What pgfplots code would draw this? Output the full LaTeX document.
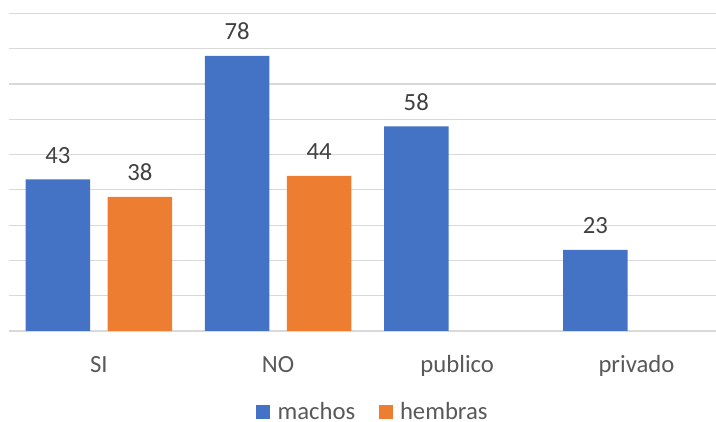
\documentclass[border=0pt]{standalone}
\usepackage{pgfplots}
\pgfplotsset{compat=1.18}
\usepackage{fontspec}
\setmainfont{Carlito}
\definecolor{machos}{HTML}{4472C4}
\definecolor{hembras}{HTML}{ED7D31}
\definecolor{txt}{HTML}{595959}
\definecolor{lbl}{HTML}{404040}
\definecolor{gridc}{HTML}{D9D9D9}
\begin{document}
\begin{tikzpicture}[font=\fontsize{24.7bp}{29bp}\selectfont]
\path[use as bounding box] (0,0) rectangle (716bp,422bp);
\begin{axis}[
  at={(9.3bp,91bp)}, anchor=south west,
  scale only axis, width=706.7bp, height=317.5bp,
  ybar,
  xmin=-0.5, xmax=3.444, ymin=0, ymax=90,
  xtick={0,1,2,3}, xticklabels={SI,NO,publico,privado},
  ytick={0,10,...,90}, yticklabels={},
  ymajorgrids, grid style={gridc, line width=1.2bp},
  axis line style={draw=none}, major tick length=0pt,
  xticklabel style={anchor=base, yshift=-41.7bp, text=txt},
  bar width=64.5bp,
  nodes near coords,
  every node near coord/.append style={anchor=base, yshift=16bp, text=lbl,
    /pgf/number format/assume math mode=true},
  legend style={at={(0.5131,-0.2542)}, anchor=center, draw=none,
    legend columns=2,
    /tikz/every odd column/.append style={column sep=7.4bp},
    /tikz/every even column/.append style={column sep=23.3bp},
    nodes={inner sep=0pt, text=txt}},
  legend image code/.code={\fill[#1] (0bp,-7bp) rectangle (14bp,7bp);},
]
\addplot[fill=machos, draw=none, bar shift=-41bp]
  coordinates {(0,43) (1,78) (2,58) (3,23)};
\addplot[fill=hembras, draw=none, bar shift=41bp]
  coordinates {(0,38) (1,44)};
\legend{machos,hembras}
\end{axis}
\end{tikzpicture}
\end{document}
